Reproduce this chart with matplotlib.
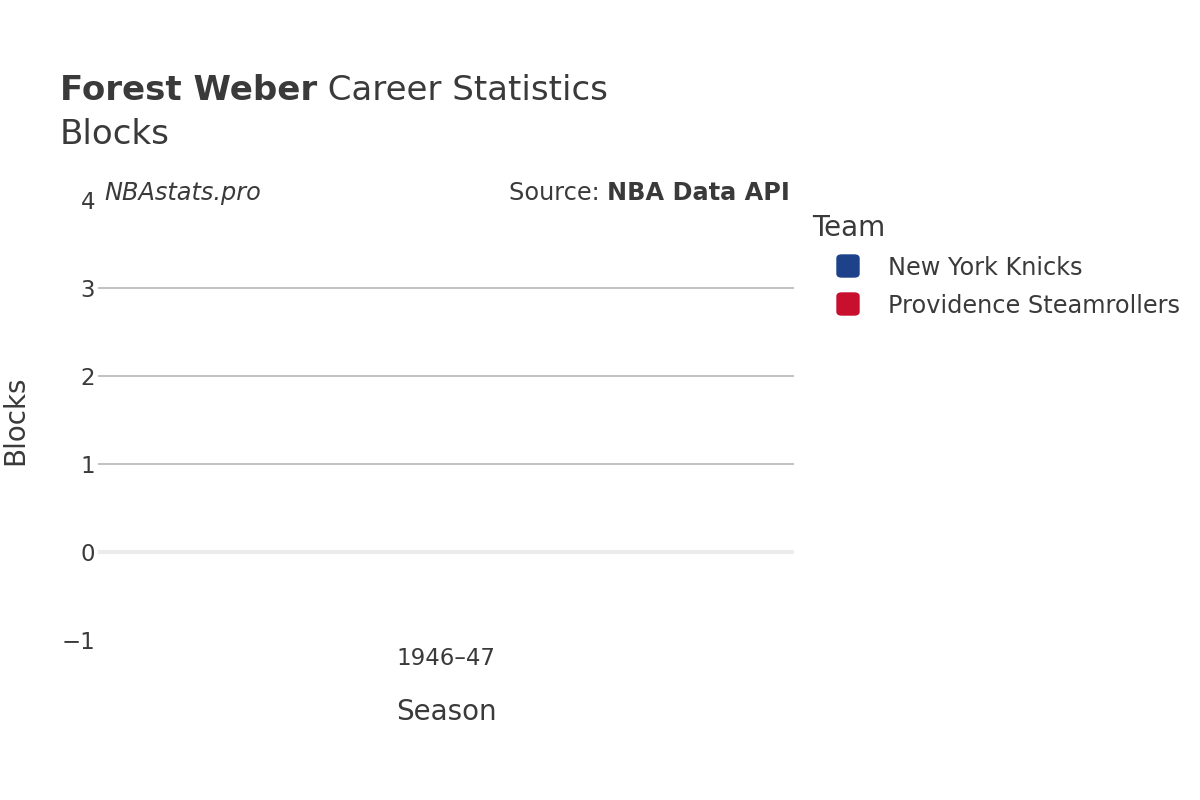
import matplotlib.pyplot as plt
from matplotlib.patches import FancyBboxPatch
import numpy as np

# data: blocks were not recorded in 1946-47, so every value is 0
seasons = ['1946–47']
teams = ['New York Knicks', 'Providence Steamrollers']
blocks_knicks = [0]
blocks_providence = [0]
team_colors = ['#1D428A', '#C8102E']

txt = '#3a3a3a'
plt.rcParams['font.family'] = ['DejaVu Sans']

fig = plt.figure(figsize=(12, 8), dpi=100)
ax = fig.add_axes([98 / 1200, 0.2, 696 / 1200, 0.55])

x = np.arange(len(seasons))
w = 0.4
ax.bar(x - w / 2, blocks_knicks, w, color=team_colors[0])
ax.bar(x + w / 2, blocks_providence, w, color=team_colors[1])

ax.set_xlim(-0.5, len(seasons) - 0.5)
ax.set_ylim(-1, 4)
ax.set_yticks([-1, 0, 1, 2, 3, 4])
ax.set_yticklabels(['−1', '0', '1', '2', '3', '4'])
ax.set_xticks(x)
ax.set_xticklabels(seasons)
for v in [1, 2, 3]:
    ax.axhline(v, color='#bdbdbd', lw=1.3, zorder=0)
ax.axhline(0, color='#ebebeb', lw=3, zorder=0)

for s in ax.spines.values():
    s.set_visible(False)
ax.tick_params(length=0, labelsize=16.5, colors=txt)
ax.tick_params(axis='y', pad=2)
ax.tick_params(axis='x', pad=5)
ax.set_xlabel('Season', fontsize=20, color=txt, labelpad=20)
ax.set_ylabel('Blocks', fontsize=20, color=txt)
ax.yaxis.set_label_coords(-0.099, 0.5)

fig.canvas.draw()
r = fig.canvas.get_renderer()

# title: bold name then normal text
t1 = fig.text(60 / 1200, 1 - 91 / 800, 'Forest Weber', fontsize=24.5, weight='bold', color=txt, va='center')
bb = t1.get_window_extent(r)
fig.text(bb.x1 / 1200, 1 - 91 / 800, ' Career Statistics', fontsize=24.5, color=txt, va='center')
fig.text(60 / 1200, 1 - 135 / 800, 'Blocks', fontsize=24.5, color=txt, va='center')

fig.text(104 / 1200, 1 - 193 / 800, 'NBAstats.pro', fontsize=17.3, style='italic', color=txt, va='center')
s2 = fig.text(790 / 1200, 1 - 193 / 800, 'NBA Data API', fontsize=17.3, weight='bold', color=txt,
              va='center', ha='right')
bb = s2.get_window_extent(r)
fig.text(bb.x0 / 1200, 1 - 193 / 800, 'Source: ', fontsize=17.3, color=txt, va='center', ha='right')

# legend drawn by hand to look like plotly
fig.text(812 / 1200, 1 - 228 / 800, 'Team', fontsize=20, color=txt, va='center')
for i, (name, c) in enumerate(zip(teams, team_colors)):
    yc = 1 - (266 + 38 * i) / 800
    fig.patches.append(FancyBboxPatch((837 / 1200, yc - 11 / 800), 22 / 1200, 22 / 800,
                                      boxstyle='round,pad=0,rounding_size=0.004',
                                      transform=fig.transFigure, color=c))
    fig.text(888 / 1200, yc - 2 / 800, name, fontsize=17.3, color=txt, va='center')

fig.savefig('out.png', dpi=100)
